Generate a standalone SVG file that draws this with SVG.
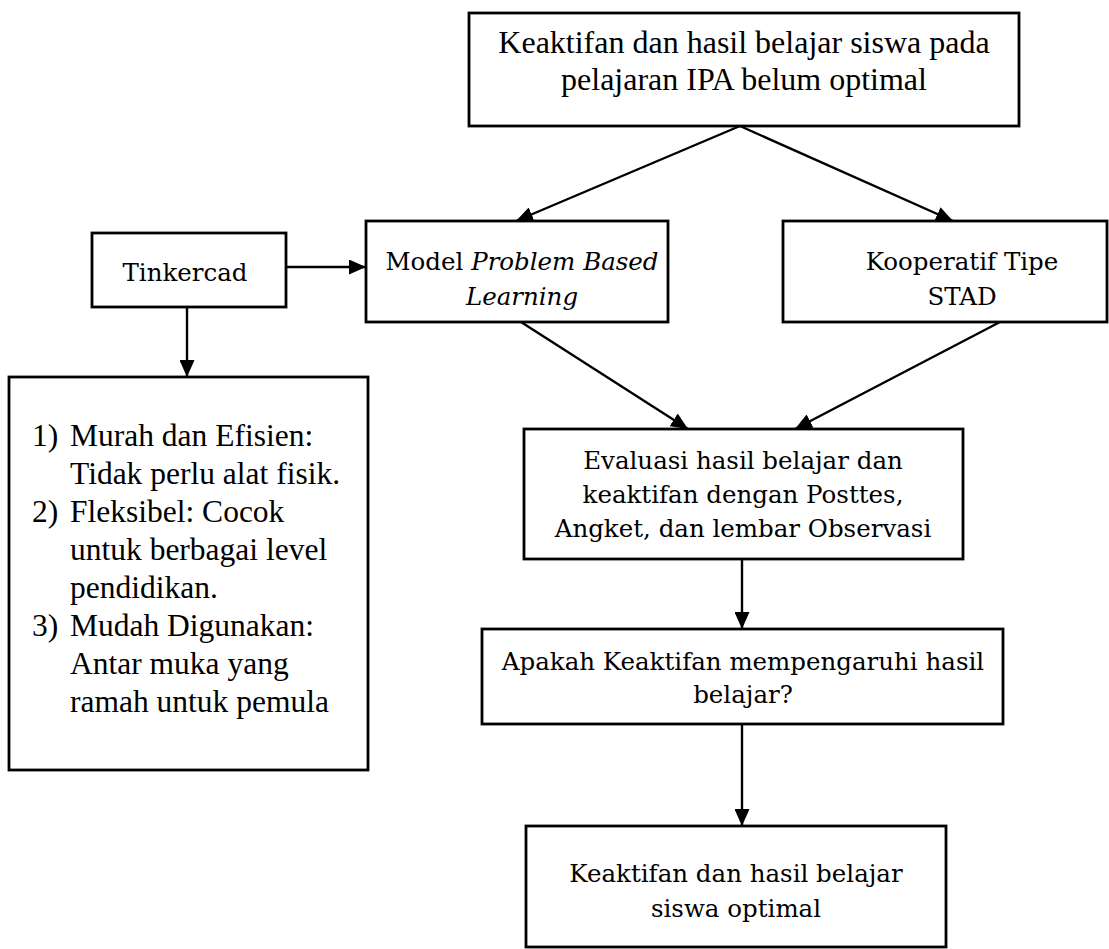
<svg xmlns="http://www.w3.org/2000/svg" width="1109" height="949" viewBox="0 0 1109 949">
<style>
.box{fill:#fff;stroke:#000;stroke-width:2.8}
.tnr{font-family:"Liberation Serif","Times New Roman",serif;font-size:31.5px;fill:#000}
.cam{font-family:"DejaVu Serif","Liberation Serif",serif;font-size:24.5px;fill:#000;text-anchor:middle}
.c{text-anchor:middle}
.ln{fill:none;stroke:#000;stroke-width:2.4}
</style>
<defs>
<marker id="ah" markerUnits="userSpaceOnUse" markerWidth="17" markerHeight="15" viewBox="0 0 17 15" refX="17" refY="7.5" orient="auto">
<path d="M0,0 L17,7.5 L0,15 Z" fill="#000"/>
</marker>
</defs>
<rect width="1109" height="949" fill="#fff"/>
<g id="connectors">
<line class="ln" x1="740" y1="126" x2="516" y2="221" marker-end="url(#ah)"/>
<line class="ln" x1="740" y1="126" x2="953" y2="221" marker-end="url(#ah)"/>
<line class="ln" x1="286" y1="267" x2="366" y2="267" marker-end="url(#ah)"/>
<line class="ln" x1="187" y1="307" x2="187" y2="377" marker-end="url(#ah)"/>
<line class="ln" x1="521" y1="322" x2="688" y2="429" marker-end="url(#ah)"/>
<line class="ln" x1="1000" y1="322" x2="795" y2="429" marker-end="url(#ah)"/>
<line class="ln" x1="742" y1="559" x2="742" y2="629" marker-end="url(#ah)"/>
<line class="ln" x1="742" y1="724" x2="742" y2="826" marker-end="url(#ah)"/>
</g>
<g id="n-top">
<rect class="box" x="469" y="13" width="550" height="113"/>
<text class="tnr c" x="744" y="53" style="font-size:32px">Keaktifan dan hasil belajar siswa pada</text>
<text class="tnr c" x="744" y="90" style="font-size:32px">pelajaran IPA belum optimal</text>
</g>
<g id="n-tinkercad">
<rect class="box" x="92" y="233" width="194" height="74"/>
<text class="cam" x="185" y="281">Tinkercad</text>
</g>
<g id="n-pbl">
<rect class="box" x="366" y="221" width="302" height="101"/>
<text class="cam" x="522" y="270">Model <tspan font-style="italic">Problem Based</tspan></text>
<text class="cam" x="522" y="305" font-style="italic">Learning</text>
</g>
<g id="n-stad">
<rect class="box" x="783" y="221" width="324" height="101"/>
<text class="cam" x="962" y="270">Kooperatif Tipe</text>
<text class="cam" x="962" y="305">STAD</text>
</g>
<g id="n-list">
<rect class="box" x="9" y="377" width="359" height="393"/>
<text class="tnr" x="32" y="446">1)</text>
<text class="tnr" x="70" y="446">Murah dan Efisien:</text>
<text class="tnr" x="70" y="484">Tidak perlu alat fisik.</text>
<text class="tnr" x="32" y="522">2)</text>
<text class="tnr" x="70" y="522">Fleksibel: Cocok</text>
<text class="tnr" x="70" y="560">untuk berbagai level</text>
<text class="tnr" x="70" y="598">pendidikan.</text>
<text class="tnr" x="32" y="636">3)</text>
<text class="tnr" x="70" y="636">Mudah Digunakan:</text>
<text class="tnr" x="70" y="674">Antar muka yang</text>
<text class="tnr" x="70" y="712">ramah untuk pemula</text>
</g>
<g id="n-eval">
<rect class="box" x="524" y="429" width="439" height="130"/>
<text class="cam" x="743" y="469">Evaluasi hasil belajar dan</text>
<text class="cam" x="743" y="503">keaktifan dengan Posttes,</text>
<text class="cam" x="743" y="537">Angket, dan lembar Observasi</text>
</g>
<g id="n-question">
<rect class="box" x="482" y="629" width="521" height="95"/>
<text class="cam" x="743" y="670">Apakah Keaktifan mempengaruhi hasil</text>
<text class="cam" x="743" y="703">belajar?</text>
</g>
<g id="n-result">
<rect class="box" x="526" y="826" width="420" height="121"/>
<text class="cam" x="736" y="882">Keaktifan dan hasil belajar</text>
<text class="cam" x="736" y="917">siswa optimal</text>
</g>
</svg>
